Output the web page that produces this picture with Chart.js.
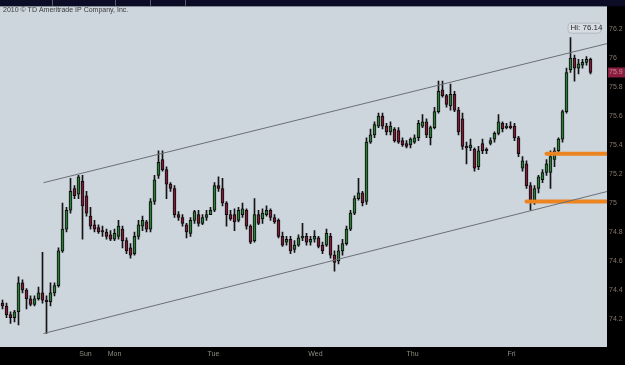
<!DOCTYPE html>
<html>
<head>
<meta charset="utf-8">
<script src="https://cdn.jsdelivr.net/npm/chart.js@4.4.1/dist/chart.umd.min.js"></script>
<style>
  html, body { margin: 0; padding: 0; background: #000; overflow: hidden; }
  canvas { display: block; }
</style>
</head>
<body>
<canvas id="chart" width="625" height="365"></canvas>
<script>
// hourly candles
const opens = [74.31,74.29,74.23,74.21,74.25,74.45,74.40,74.34,74.30,74.34,
  74.38,74.33,74.32,74.38,74.43,74.67,74.82,74.95,75.10,75.06,
  75.15,75.05,74.91,74.85,74.83,74.81,74.80,74.78,74.75,74.77,
  74.82,74.74,74.69,74.65,74.77,74.84,74.87,74.82,75.01,75.19,
  75.30,75.23,75.13,75.10,74.92,74.90,74.85,74.79,74.88,74.92,
  74.86,74.90,74.92,74.95,75.12,75.10,75.00,74.92,74.92,74.88,
  74.92,74.95,74.84,74.74,74.92,74.89,74.92,74.95,74.90,74.88,
  74.77,74.73,74.75,74.68,74.71,74.76,74.77,74.73,74.75,74.76,
  74.71,74.71,74.77,74.64,74.60,74.67,74.72,74.82,74.93,75.03,
  75.07,75.01,75.42,75.47,75.53,75.60,75.53,75.49,75.51,75.50,
  75.43,75.41,75.40,75.42,75.45,75.53,75.56,75.45,75.52,75.63,
  75.78,75.74,75.67,75.75,75.64,75.58,75.39,75.38,75.37,75.25,
  75.41,75.37,75.41,75.44,75.48,75.55,75.52,75.53,75.53,75.45,
  75.24,75.27,75.12,75.02,75.10,75.16,75.21,75.21,75.30,75.36,
  75.44,75.63,75.92,76.00,75.93,75.95,75.97,75.99];
const highs = [74.33,74.31,74.25,74.26,74.49,74.47,74.41,74.36,74.36,74.42,
  74.66,74.36,74.45,74.45,74.69,75.00,74.97,75.17,75.12,75.19,
  75.19,75.08,74.97,74.88,74.85,74.84,74.82,74.81,74.82,74.88,
  74.84,74.76,74.72,74.80,74.88,74.91,74.88,75.03,75.19,75.36,
  75.36,75.25,75.14,75.12,74.94,74.92,74.86,74.90,74.95,74.95,
  74.92,74.95,74.97,75.14,75.18,75.17,75.01,74.95,74.96,74.97,
  75.00,74.96,74.85,75.03,74.95,74.96,74.98,74.96,74.92,74.89,
  74.80,74.77,74.77,74.74,74.78,74.86,74.79,74.77,74.81,74.77,
  74.73,74.82,74.79,74.67,74.71,74.75,74.84,74.95,75.05,75.17,
  75.08,75.45,75.51,75.56,75.62,75.62,75.55,75.56,75.52,75.52,
  75.45,75.43,75.45,75.47,75.57,75.61,75.58,75.53,75.66,75.84,
  75.84,75.75,75.82,75.77,75.66,75.62,75.42,75.44,75.38,75.39,
  75.44,75.38,75.45,75.49,75.61,75.56,75.55,75.56,75.55,75.46,
  75.32,75.29,75.14,75.12,75.19,75.23,75.30,75.36,75.38,75.45,
  75.64,75.93,76.14,76.02,75.99,75.99,76.01,76.00];
const lows = [74.27,74.21,74.17,74.18,74.16,74.38,74.27,74.29,74.29,74.33,
  74.31,74.10,74.29,74.36,74.42,74.66,74.80,74.93,75.03,75.03,
  74.75,74.91,74.82,74.80,74.79,74.77,74.75,74.74,74.74,74.75,
  74.69,74.65,74.62,74.64,74.75,74.81,74.80,74.80,74.99,75.17,
  75.22,75.03,75.08,74.90,74.88,74.84,74.76,74.77,74.86,74.84,
  74.85,74.88,74.92,74.94,75.08,74.98,74.84,74.88,74.81,74.87,
  74.90,74.82,74.72,74.73,74.85,74.86,74.91,74.88,74.86,74.76,
  74.70,74.71,74.65,74.66,74.70,74.74,74.71,74.71,74.73,74.69,
  74.65,74.70,74.62,74.53,74.58,74.64,74.71,74.81,74.92,75.02,
  74.98,74.99,75.41,75.45,75.52,75.51,75.47,75.47,75.42,75.41,
  75.39,75.38,75.38,75.41,75.43,75.52,75.45,75.40,75.51,75.62,
  75.73,75.66,75.64,75.63,75.47,75.37,75.27,75.36,75.22,75.23,
  75.34,75.34,75.40,75.42,75.47,75.49,75.51,75.51,75.43,75.32,
  75.22,75.10,74.95,74.99,75.07,75.14,75.19,75.10,75.25,75.34,
  75.42,75.62,75.90,75.84,75.89,75.93,75.95,75.89];
const closes = [74.29,74.23,74.21,74.25,74.45,74.40,74.34,74.30,74.34,74.38,
  74.33,74.32,74.38,74.43,74.67,74.82,74.95,75.08,75.05,75.18,
  74.98,74.93,74.84,74.82,74.80,74.80,74.77,74.75,74.79,74.84,
  74.74,74.67,74.64,74.77,74.85,74.88,74.82,75.01,75.16,75.28,
  75.23,75.13,75.10,74.92,74.90,74.86,74.80,74.88,74.94,74.86,
  74.90,74.92,74.95,75.12,75.10,75.00,74.92,74.89,74.87,74.95,
  74.96,74.84,74.73,74.92,74.86,74.93,74.95,74.90,74.87,74.77,
  74.71,74.75,74.67,74.71,74.76,74.77,74.73,74.75,74.77,74.70,
  74.67,74.79,74.64,74.59,74.67,74.72,74.82,74.93,75.03,75.07,
  75.00,75.42,75.47,75.54,75.60,75.53,75.49,75.53,75.43,75.42,
  75.40,75.39,75.44,75.45,75.55,75.56,75.47,75.52,75.63,75.77,
  75.74,75.68,75.75,75.64,75.49,75.39,75.38,75.40,75.24,75.36,
  75.36,75.36,75.43,75.48,75.56,75.51,75.53,75.52,75.45,75.34,
  75.29,75.12,75.02,75.10,75.18,75.21,75.27,75.32,75.36,75.44,
  75.63,75.90,76.00,75.93,75.96,75.97,75.99,75.90];

// axis labels
const dayNames = ['Sun', 'Mon', 'Tue', 'Wed', 'Thu', 'Fri'];
const dayTicks = [20.75, 28, 52.75, 78.25, 102.5, 127.25];
const priceTicks = [74.2, 74.4, 74.6, 74.8, 75, 75.2, 75.4, 75.6, 75.8, 76, 76.2];

// drawn lines: channel and two levels
const channelTop = [{x: 10.25, y: 75.14}, {x: 151.25, y: 76.10}];
const channelBottom = [{x: 10.25, y: 74.10}, {x: 151.25, y: 75.08}];
const levelHigh = [{x: 136, y: 75.34}, {x: 151.25, y: 75.34}];
const levelLow = [{x: 131, y: 75.01}, {x: 151.25, y: 75.01}];

const UP = '#2c7d35';
const DOWN = '#7c1b36';
const PLOT_BG = '#cdd5dd';
const FONT = '"Liberation Sans", Arial, sans-serif';

const wicks = opens.map((o, i) => ({x: i, y: [lows[i], highs[i]]}));
const bodies = opens.map((o, i) => ({x: i, y: [o, closes[i]]}));
const bodyColors = opens.map((o, i) => closes[i] >= o ? UP : DOWN);

const backdrop = {
  id: 'backdrop',
  beforeDraw(chart) {
    const {ctx, chartArea: a} = chart;
    ctx.save();
    ctx.fillStyle = '#000';
    ctx.fillRect(0, 0, chart.width, chart.height);
    ctx.fillStyle = PLOT_BG;
    ctx.fillRect(a.left, a.top, a.right - a.left, a.bottom - a.top);
    // title strip of the trading window
    ctx.fillStyle = '#0c0c26';
    ctx.fillRect(0, 0, chart.width, a.top);
    ctx.fillStyle = '#5a5a6a';
    [52, 115, 150, 185].forEach(x => ctx.fillRect(x, 0, 1, a.top));
    ctx.restore();
  }
};

const labels = {
  id: 'labels',
  afterDraw(chart) {
    const {ctx, chartArea: a, scales: {x, y}} = chart;
    ctx.save();
    ctx.font = '7px ' + FONT;
    ctx.fillStyle = '#3c3c3c';
    ctx.textBaseline = 'middle';
    ctx.fillText('2010 \u00a9 TD Ameritrade IP Company, Inc.', 3, 10);

    // high marker
    const hi = Math.max(...highs);
    const hx = x.getPixelForValue(highs.indexOf(hi));
    const hy = y.getPixelForValue(hi);
    ctx.fillStyle = '#d6dce2';
    ctx.strokeStyle = '#b4bac0';
    ctx.lineWidth = 1;
    ctx.beginPath();
    ctx.roundRect(hx - 2.5, hy - 14.5, 33, 10, 3);
    ctx.fill();
    ctx.stroke();
    ctx.fillStyle = '#2a2a2a';
    ctx.font = '8px ' + FONT;
    ctx.fillText('Hi: ' + hi.toFixed(2), hx, hy - 9.5);

    // last price tag on the axis
    const last = closes[closes.length - 1];
    const ly = y.getPixelForValue(last);
    ctx.fillStyle = '#8a1d40';
    ctx.fillRect(a.right + 1, ly - 5, chart.width - a.right - 1, 10);
    ctx.fillStyle = '#c98a9a';
    ctx.font = '7px ' + FONT;
    ctx.fillText(last.toFixed(1), a.right + 2, ly);
    ctx.restore();
  }
};

new Chart(document.getElementById('chart'), {
  type: 'bar',
  data: {
    datasets: [
      {type: 'line', data: channelTop, borderColor: '#6c7076', borderWidth: 1, pointRadius: 0, order: 0},
      {type: 'line', data: channelBottom, borderColor: '#6c7076', borderWidth: 1, pointRadius: 0, order: 0},
      {type: 'line', data: levelHigh, borderColor: '#ec8420', borderWidth: 4, borderCapStyle: 'round', pointRadius: 0, order: 0},
      {type: 'line', data: levelLow, borderColor: '#ec8420', borderWidth: 4, borderCapStyle: 'round', pointRadius: 0, order: 0},
      {
        data: bodies,
        backgroundColor: bodyColors,
        borderColor: '#0b0b0b',
        borderWidth: 1,
        borderSkipped: false,
        barThickness: 3,
        minBarLength: 1,
        grouped: false,
        order: 1
      },
      {
        data: wicks,
        backgroundColor: '#141414',
        borderWidth: 0,
        barThickness: 1,
        grouped: false,
        order: 2
      }
    ]
  },
  options: {
    responsive: false,
    animation: false,
    layout: { padding: { top: 4, left: 0, right: 0, bottom: 0 } },
    plugins: { legend: { display: false }, tooltip: { enabled: false } },
    scales: {
      x: {
        type: 'linear',
        min: -0.625,
        max: 151.125,
        offset: false,
        grid: { display: false, drawTicks: false },
        border: { display: false },
        afterBuildTicks: s => { s.ticks = dayTicks.map(v => ({value: v})); },
        afterFit: s => { s.height = 18; },
        ticks: {
          autoSkip: false,
          maxRotation: 0,
          padding: 3,
          color: '#8d8d80',
          font: { family: FONT, size: 7 },
          callback: (v, i) => dayNames[i]
        }
      },
      y: {
        position: 'right',
        min: 74.007,
        max: 76.357,
        grid: { display: false, drawTicks: false },
        border: { display: false },
        afterBuildTicks: s => { s.ticks = priceTicks.map(v => ({value: v})); },
        afterFit: s => { s.width = 18; },
        ticks: {
          padding: 2,
          color: '#86776a',
          font: { family: FONT, size: 7 },
          callback: v => String(+v.toFixed(1))
        }
      }
    }
  },
  plugins: [backdrop, labels]
});
</script>
</body>
</html>
